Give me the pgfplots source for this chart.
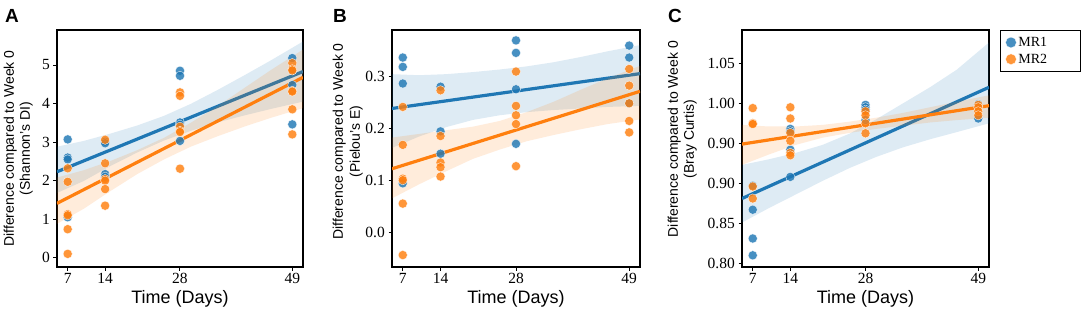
\documentclass[border=0pt]{standalone}
\usepackage{fontspec}
\setmainfont{Liberation Serif}
\setsansfont{Liberation Sans}
\usepackage{pgfplots}
\pgfplotsset{compat=1.18}
\definecolor{mrblue}{HTML}{1F77B4}
\definecolor{mrorange}{HTML}{FF7F0E}
\pgfplotsset{
  panel/.style={
    scale only axis, width=246pt, height=237pt,
    xmin=5, xmax=51,
    xtick={7,14,28,49},
    axis line style={line width=1.2pt},
    tick style={black, line width=1pt},
    major tick length=3.5pt,
    tick align=outside,
    xtick pos=left, ytick pos=left,
    ticklabel style={font=\fontsize{15.5}{15.5}\selectfont, inner sep=0pt},
    xticklabel style={yshift=-2.5pt},
    yticklabel style={xshift=-3.5pt},
    /pgf/number format/assume math mode=true,
    xlabel={Time (Days)},
    xlabel style={font=\sffamily\fontsize{18}{18}\selectfont, at={(axis description cs:0.5,-0.154)}, anchor=base},
    ylabel style={font=\sffamily\fontsize{14}{16}\selectfont, align=center, anchor=south, inner sep=0pt},
  },
  band/.style={draw=none, fill opacity=0.15, forget plot},
  fit/.style={line width=3.2pt, forget plot},
  ptsB/.style={only marks, mark=*, mark size=4.6pt, mark options={draw=white, line width=0.3pt, fill=mrblue, fill opacity=0.82}, forget plot},
  ptsO/.style={only marks, mark=*, mark size=4.6pt, mark options={draw=white, line width=0.3pt, fill=mrorange, fill opacity=0.82}, forget plot},
}
\begin{document}
\begin{tikzpicture}
\path[use as bounding box] (0,0) rectangle (1084pt,311pt);
% ---------------- Panel A ----------------
\begin{axis}[panel, at={(57pt,44pt)}, anchor=south west,
  ymin=-0.241, ymax=5.908, ytick={0,1,2,3,4,5},
  ylabel={Difference compared to Week 0\\(Shannon's DI)},
  ylabel style={at={(axis description cs:-0.098,0.5)}}]
\addplot[band, fill=mrblue] coordinates {(5,1.68)(10,1.99)(15,2.38)(20,2.73)(25,3.04)(30,3.29)(35,3.51)(40,3.69)(45,3.86)(51,4.05)
 (51,5.61)(45,5.12)(40,4.73)(35,4.35)(30,3.99)(25,3.68)(20,3.43)(15,3.22)(10,3.03)(5,2.88)};
\addplot[ptsB] coordinates {(7,3.07)(7,2.60)(7,2.55)(7,1.05)
 (14,3.01)(14,2.97)(14,2.17)(14,2.10)
 (28,4.85)(28,4.72)(28,3.51)(28,3.45)(28,3.03)
 (49,5.18)(49,4.86)(49,4.48)(49,3.46)};
\addplot[fit, mrblue] coordinates {(5,2.23)(51,4.83)};
\addplot[band, fill=mrorange] coordinates {(5,0.88)(10,1.27)(15,1.73)(20,2.17)(25,2.55)(30,2.88)(35,3.15)(40,3.40)(45,3.63)(51,3.88)
 (51,5.40)(45,4.87)(40,4.40)(35,3.93)(30,3.50)(25,3.11)(20,2.79)(15,2.51)(10,2.27)(5,2.08)};
\addplot[ptsO] coordinates {(7,2.32)(7,1.97)(7,1.13)(7,1.10)(7,0.74)(7,0.10)
 (14,3.06)(14,2.45)(14,2.04)(14,2.00)(14,1.78)(14,1.35)
 (28,4.29)(28,4.20)(28,3.40)(28,3.29)(28,3.26)(28,2.31)
 (49,5.05)(49,4.89)(49,4.86)(49,4.33)(49,4.31)(49,3.85)(49,3.20)};
\addplot[fit, mrorange] coordinates {(5,1.41)(51,4.68)};
\end{axis}
% ---------------- Panel B ----------------
\begin{axis}[panel, at={(392pt,44pt)}, anchor=south west, width=248pt,
  ymin=-0.066, ymax=0.390, ytick={0,0.1,0.2,0.3}, yticklabels={0.0,0.1,0.2,0.3},
  ylabel={Difference compared to Week 0\\(Pielou's E)},
  ylabel style={at={(axis description cs:-0.117,0.53)}, font=\sffamily\fontsize{14}{17}\selectfont}]
\addplot[band, fill=mrblue] coordinates {(5,0.163)(10,0.185)(15,0.203)(20,0.217)(25,0.226)(30,0.232)(35,0.236)(40,0.239)(45,0.242)(51,0.244)
 (51,0.361)(45,0.349)(40,0.338)(35,0.328)(30,0.320)(25,0.314)(20,0.309)(15,0.305)(10,0.303)(5,0.305)};
\addplot[ptsB] coordinates {(7,0.337)(7,0.319)(7,0.287)(7,0.095)
 (14,0.281)(14,0.195)(14,0.152)
 (28,0.370)(28,0.346)(28,0.276)(28,0.171)
 (49,0.360)(49,0.337)(49,0.249)};
\addplot[fit, mrblue] coordinates {(5,0.239)(51,0.306)};
\addplot[band, fill=mrorange] coordinates {(5,0.066)(10,0.093)(15,0.118)(20,0.142)(25,0.160)(30,0.176)(35,0.188)(40,0.199)(45,0.209)(51,0.218)
 (51,0.321)(45,0.297)(40,0.275)(35,0.252)(30,0.232)(25,0.215)(20,0.204)(15,0.197)(10,0.190)(5,0.183)};
\addplot[ptsO] coordinates {(7,0.242)(7,0.169)(7,0.104)(7,0.101)(7,0.056)(7,-0.043)
 (14,0.274)(14,0.186)(14,0.135)(14,0.126)(14,0.108)
 (28,0.310)(28,0.244)(28,0.226)(28,0.209)(28,0.128)
 (49,0.315)(49,0.283)(49,0.249)(49,0.215)(49,0.193)};
\addplot[fit, mrorange] coordinates {(5,0.123)(51,0.272)};
\end{axis}
% ---------------- Panel C ----------------
\begin{axis}[panel, at={(742pt,44pt)}, anchor=south west, width=247pt,
  ymin=0.7954, ymax=1.0916, ytick={0.80,0.85,0.90,0.95,1.00,1.05},
  yticklabels={0.80,0.85,0.90,0.90,1.00,1.05},
  ylabel={Difference compared to Week 0\\(Bray Curtis)},
  ylabel style={at={(axis description cs:-0.182,0.54)}},
  legend style={at={(1.0445,1)}, anchor=north west, draw=black, line width=1.2pt,
    font=\fontsize{14}{14}\selectfont, inner xsep=5pt, inner ysep=4.5pt, row sep=2pt},
  legend cell align=left]
\addlegendimage{only marks, mark=*, mark size=5.4pt, mark options={fill=mrblue, draw=white, line width=0.3pt, fill opacity=0.82}}
\addlegendentry{MR1\hspace*{26pt}}
\addlegendimage{only marks, mark=*, mark size=5.4pt, mark options={fill=mrorange, draw=white, line width=0.3pt, fill opacity=0.82}}
\addlegendentry{MR2\hspace*{26pt}}
\addplot[band, fill=mrblue] coordinates {(5,0.851)(10,0.869)(15,0.886)(20,0.903)(25,0.919)(30,0.933)(35,0.945)(40,0.955)(45,0.964)(51,0.975)
 (51,1.076)(45,1.042)(40,1.020)(35,1.000)(30,0.980)(25,0.962)(20,0.948)(15,0.938)(10,0.930)(5,0.923)};
\addplot[ptsB] coordinates {(7,0.897)(7,0.867)(7,0.831)(7,0.810)
 (14,0.968)(14,0.965)(14,0.942)(14,0.908)
 (28,0.998)(28,0.995)(28,0.992)(28,0.979)
 (49,0.999)(49,0.996)(49,0.981)};
\addplot[fit, mrblue] coordinates {(5,0.881)(51,1.020)};
\addplot[band, fill=mrorange] coordinates {(5,0.923)(10,0.936)(15,0.948)(20,0.957)(25,0.963)(30,0.968)(35,0.972)(40,0.976)(45,0.979)(51,0.982)
 (51,1.010)(45,1.002)(40,0.995)(35,0.988)(30,0.982)(25,0.977)(20,0.973)(15,0.971)(10,0.971)(5,0.973)};
\addplot[ptsO] coordinates {(7,0.994)(7,0.975)(7,0.974)(7,0.896)(7,0.881)
 (14,0.995)(14,0.981)(14,0.963)(14,0.953)(14,0.938)(14,0.935)
 (28,0.990)(28,0.985)(28,0.975)(28,0.9625)
 (49,0.998)(49,0.995)(49,0.990)(49,0.985)};
\addplot[fit, mrorange] coordinates {(5,0.949)(51,0.997)};
\end{axis}
% panel letters
\node[anchor=base west, inner sep=0pt, font=\sffamily\bfseries\fontsize{19}{19}\selectfont] at (5pt,288.5pt) {A};
\node[anchor=base west, inner sep=0pt, font=\sffamily\bfseries\fontsize{19}{19}\selectfont] at (333pt,288.5pt) {B};
\node[anchor=base west, inner sep=0pt, font=\sffamily\bfseries\fontsize{19}{19}\selectfont] at (668pt,288.5pt) {C};
\end{tikzpicture}
\end{document}
